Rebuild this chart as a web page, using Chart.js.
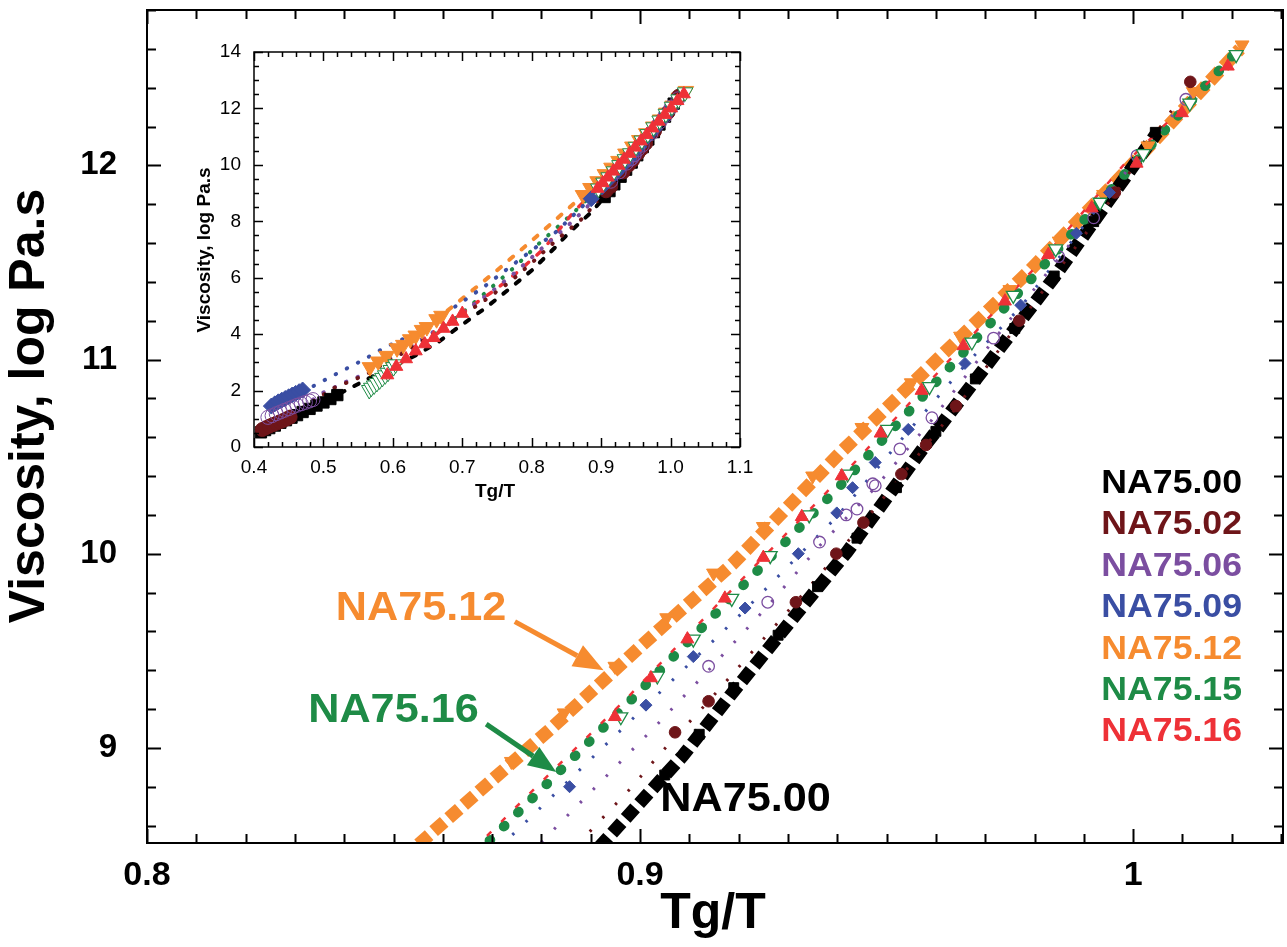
<!DOCTYPE html>
<html>
<head>
<meta charset="utf-8">
<script src="https://cdn.jsdelivr.net/npm/chart.js@4.4.1/dist/chart.umd.min.js"></script>
<style>
html, body { margin: 0; padding: 0; background: #fff; }
#wrap { position: relative; width: 1287px; height: 947px; overflow: hidden; }
#mainChart { position: absolute; left: 0; top: 0; }
#insetChart { position: absolute; left: 180px; top: 35px; }
</style>
</head>
<body>
<div id="wrap">
  <canvas id="mainChart" width="1287" height="947"></canvas>
  <canvas id="insetChart" width="580" height="480"></canvas>
</div>
<script>
// ---- data (Tg/T, log10 viscosity in Pa.s) ----
const seriesNames = ["NA75.00", "NA75.02", "NA75.06", "NA75.09", "NA75.12", "NA75.15", "NA75.16"];
const seriesColors = ["#000000", "#6e1519", "#7b4ea0", "#3a4ea3", "#f68b2f", "#1e8b46", "#ee3137"];

// fitted curves
const fitNA7500 = [[0.524,1.9],[0.538,2.08],[0.58,2.62],[0.634,3.26],[0.666,3.73],[0.697,4.29],[0.733,4.92],[0.766,5.57],[0.801,6.28],[0.834,7.08],[0.853,7.58],[0.884,8.28],[0.8925,8.51],[0.9087,8.96],[0.9183,9.27],[0.942,10.01],[0.9582,10.57],[0.9836,11.41],[1.0049,12.17]];
const fitNA7502 = [[0.455,1.15],[0.49,1.7],[0.514,2.08],[0.56,2.55],[0.63,3.56],[0.69,4.5],[0.733,5.21],[0.769,5.86],[0.802,6.57],[0.836,7.34],[0.872,8.08],[0.8878,8.515],[0.8984,8.8],[0.9037,8.96],[0.9139,9.24],[0.9316,9.75],[0.9398,9.99],[0.953,10.4],[0.9641,10.75],[0.9769,11.19],[0.9963,11.85],[1.008,12.29]];
const fitNA7506 = [[0.485,1.68],[0.4975,1.9],[0.5335,2.32],[0.566,2.65],[0.6,3.2],[0.65,3.95],[0.7,4.75],[0.7423,5.51],[0.7759,6.18],[0.8095,6.93],[0.8455,7.7],[0.8623,8.08],[0.8798,8.51],[0.9027,9.1],[0.9139,9.4],[0.9259,9.73],[0.9364,10.04],[0.9477,10.34],[0.9592,10.69],[0.9717,11.1],[0.9849,11.52],[1.0008,12.04],[1.0107,12.34]];
const fitNA7509 = [[0.47,1.95],[0.4855,2.16],[0.52,2.61],[0.5575,3.09],[0.5911,3.56],[0.6271,3.97],[0.6539,4.37],[0.7303,5.66],[0.7663,6.34],[0.8014,6.99],[0.8359,7.64],[0.8724,8.51],[0.8989,9.16],[0.9213,9.71],[0.9399,10.19],[0.9544,10.63],[0.9659,10.97],[0.9772,11.27],[0.9885,11.64],[0.9952,11.86]];
const fitNA7512 = [[0.567,2.83],[0.6055,3.5],[0.6415,4.15],[0.68,4.86],[0.7495,6.25],[0.8014,7.34],[0.8527,8.45],[0.8824,9.11],[0.9,9.52],[0.9189,9.95],[0.9406,10.52],[0.9791,11.46],[0.9967,11.92],[1.0217,12.6]];
const fitNA7515 = [[0.604,2.93],[0.65,3.8],[0.7063,4.89],[0.7423,5.66],[0.7759,6.39],[0.8109,7.22],[0.8441,7.95],[0.869,8.51],[0.8839,8.885],[0.8983,9.25],[0.9095,9.54],[0.9406,10.35],[0.981,11.46],[0.9992,11.98],[1.0204,12.57]];
const fitNA7516 = [[0.592,2.55],[0.6391,3.56],[0.6775,4.27],[0.7135,5.0],[0.7486,5.59],[0.7821,6.25],[0.8167,7.01],[0.8431,7.81],[0.86,8.32],[0.8675,8.51],[0.883,8.9],[0.8975,9.26],[0.9085,9.55],[0.9395,10.36],[0.98,11.47],[0.998,12.0],[1.019,12.52]];

// measured points
const ptsNA7500 = [[0.41,0.52],[0.416,0.6],[0.422,0.67],[0.43,0.76],[0.438,0.86],[0.446,0.95],[0.454,1.04],[0.462,1.13],[0.47,1.24],[0.48,1.35],[0.49,1.47],[0.5,1.58],[0.51,1.7],[0.52,1.84],
  [0.905,8.86],[0.912,9.07],[0.919,9.31],[0.928,9.58],[0.936,9.83],[0.944,10.08],[0.952,10.34],[0.96,10.63],[0.968,10.9],[0.976,11.16],[0.984,11.43],[0.992,11.71],[1.0045,12.17]];
const ptsNA7502 = [[0.412,0.62],[0.417,0.68],[0.422,0.74],[0.427,0.79],[0.432,0.84],[0.437,0.89],[0.442,0.94],[0.447,1.0],[0.452,1.06],
  [0.9071,9.08],[0.9139,9.24],[0.9316,9.75],[0.9398,10.0],[0.9453,10.16],[0.953,10.41],[0.958,10.56],[0.9641,10.76],[0.9769,11.2],[0.9963,11.86],[1.0116,12.43]];
const ptsNA7506 = [[0.42,1.05],[0.426,1.11],[0.432,1.18],[0.438,1.24],[0.444,1.3],[0.45,1.36],[0.456,1.42],[0.462,1.48],[0.468,1.53],[0.474,1.58],[0.48,1.63],[0.485,1.68],
  [0.9139,9.42],[0.9259,9.75],[0.9364,10.06],[0.9418,10.2],[0.944,10.23],[0.9472,10.36],[0.9477,10.35],[0.9527,10.54],[0.9592,10.7],[0.9717,11.11],[0.9849,11.53],[0.992,11.73],[1.0008,12.05],[1.0107,12.34]];
const ptsNA7509 = [[0.425,1.45],[0.43,1.53],[0.435,1.6],[0.44,1.66],[0.445,1.72],[0.45,1.78],[0.455,1.84],[0.46,1.9],[0.465,1.96],[0.47,2.02],
  [0.8857,8.8],[0.9012,9.22],[0.9108,9.47],[0.9213,9.72],[0.9321,10.0],[0.9399,10.21],[0.9431,10.34],[0.9477,10.47],[0.9544,10.64],[0.9659,10.98],[0.9772,11.28],[0.9885,11.65],[0.9952,11.86]];
const ptsNA7512 = [[0.567,2.83],[0.579,3.03],[0.591,3.23],[0.606,3.5],[0.615,3.62],[0.625,3.82],[0.633,3.95],[0.642,4.15],[0.649,4.25],[0.663,4.53],[0.67,4.65],
  [0.8739,8.93],[0.8846,9.18],[0.8949,9.42],[0.9054,9.67],[0.9149,9.9],[0.925,10.14],[0.935,10.4],[0.945,10.65],[0.955,10.88],[0.965,11.12],[0.975,11.36],[0.985,11.61],[0.994,11.85],[1.003,12.1],[1.0122,12.38],[1.0221,12.62]];
const ptsNA7515 = [[0.566,2.02],[0.569,2.1],[0.573,2.18],[0.577,2.27],[0.581,2.36],[0.585,2.45],[0.589,2.54],[0.593,2.63],[0.597,2.73],[0.601,2.83],[0.604,2.93],
  [0.8961,9.16],[0.9035,9.37],[0.9108,9.56],[0.9186,9.77],[0.9264,9.99],[0.9343,10.2],[0.9421,10.41],[0.9502,10.64],[0.9587,10.86],[0.9673,11.09],[0.9757,11.33],[0.9843,11.57],[0.9933,11.81],[1.0021,12.06],[1.0115,12.32],[1.0209,12.57]];
const ptsNA7516 = [[0.592,2.55],[0.605,2.85],[0.619,3.12],[0.633,3.4],[0.646,3.65],[0.659,3.87],[0.673,4.2],[0.686,4.45],[0.7,4.73],
  [0.8949,9.16],[0.9022,9.36],[0.9096,9.56],[0.9172,9.77],[0.925,9.98],[0.9328,10.19],[0.9409,10.4],[0.9488,10.62],[0.9571,10.84],[0.9656,11.07],[0.974,11.3],[0.9828,11.54],[0.9916,11.78],[1.0007,12.01],[1.0099,12.27],[1.0192,12.51]];

// ticks
const mainXTicks = [0.8, 0.9, 1.0];
const mainXLabels = ["0.8", "0.9", "1"];
const mainYTicks = [9, 10, 11, 12];
const mainYLabels = ["9", "10", "11", "12"];
const insetXTicks = [0.4, 0.5, 0.6, 0.7, 0.8, 0.9, 1.0, 1.1];
const insetXLabels = ["0.4", "0.5", "0.6", "0.7", "0.8", "0.9", "1.0", "1.1"];
const insetYTicks = [0, 2, 4, 6, 8, 10, 12, 14];
const insetYLabels = ["0", "2", "4", "6", "8", "10", "12", "14"];

const FONT = "'Liberation Sans', Arial, Helvetica, sans-serif";
Chart.defaults.font.family = FONT;
Chart.defaults.color = "#000";

// frame with inward ticks on all four sides
const frameTicks = {
    id: "frameTicks",
    afterDatasetsDraw(chart, args, o) {
        const { ctx, chartArea: a, scales: { x, y } } = chart;
        ctx.save();
        ctx.strokeStyle = "#000";
        ctx.lineWidth = o.lineWidth;
        ctx.beginPath();

        const kx0 = Math.ceil(x.min / o.xMinor - 1e-6), kx1 = Math.floor(x.max / o.xMinor + 1e-6);
        for (let k = kx0; k <= kx1; k++) {
            const v = k * o.xMinor;
            const r = v / o.xMajor;
            const len = Math.abs(r - Math.round(r)) < 1e-6 ? o.majorLen : o.minorLen;
            const px = Math.round(x.getPixelForValue(v)) + 0.5;
            ctx.moveTo(px, a.bottom); ctx.lineTo(px, a.bottom - len);
            ctx.moveTo(px, a.top); ctx.lineTo(px, a.top + len);
        }
        const ky0 = Math.ceil(y.min / o.yMinor - 1e-6), ky1 = Math.floor(y.max / o.yMinor + 1e-6);
        for (let k = ky0; k <= ky1; k++) {
            const v = k * o.yMinor;
            const r = v / o.yMajor;
            const len = Math.abs(r - Math.round(r)) < 1e-6 ? o.majorLen : o.minorLen;
            const py = Math.round(y.getPixelForValue(v)) + 0.5;
            ctx.moveTo(a.left, py); ctx.lineTo(a.left + len, py);
            ctx.moveTo(a.right, py); ctx.lineTo(a.right - len, py);
        }
        ctx.stroke();
        ctx.strokeRect(a.left, a.top, a.right - a.left, a.bottom - a.top);
        ctx.restore();
    }
};

// axis titles drawn by hand so they can sit where the original has them
const axisTitles = {
    id: "axisTitles",
    afterDraw(chart, args, o) {
        const ctx = chart.ctx;
        ctx.save();
        ctx.fillStyle = "#000";
        ctx.textAlign = "center";
        ctx.textBaseline = "middle";
        ctx.font = o.font;
        ctx.fillText(o.xText, o.xPos[0], o.xPos[1]);
        ctx.translate(o.yPos[0], o.yPos[1]);
        ctx.rotate(-Math.PI / 2);
        ctx.fillText(o.yText, 0, 0);
        ctx.restore();
    }
};

function arrow(ctx, x0, y0, x1, y1, color, shaft, headLen, headW) {
    const ang = Math.atan2(y1 - y0, x1 - x0);
    const bx = x1 - Math.cos(ang) * headLen, by = y1 - Math.sin(ang) * headLen;
    ctx.strokeStyle = color;
    ctx.fillStyle = color;
    ctx.lineWidth = shaft;
    ctx.beginPath();
    ctx.moveTo(x0, y0);
    ctx.lineTo(bx, by);
    ctx.stroke();
    ctx.beginPath();
    ctx.moveTo(x1, y1);
    ctx.lineTo(bx + Math.sin(ang) * headW / 2, by - Math.cos(ang) * headW / 2);
    ctx.lineTo(bx - Math.sin(ang) * headW / 2, by + Math.cos(ang) * headW / 2);
    ctx.closePath();
    ctx.fill();
}

// text a little wider than the installed font draws it
function wideText(ctx, text, x, y, stretch, align) {
    ctx.save();
    ctx.translate(x, y);
    ctx.scale(stretch, 1);
    ctx.textAlign = align;
    ctx.fillText(text, 0, 0);
    ctx.restore();
}

// labels, arrows and the coloured-text legend of the main plot
const mainNotes = {
    id: "mainNotes",
    afterDatasetsDraw(chart) {
        const { ctx, scales: { x, y } } = chart;
        ctx.save();
        ctx.font = "bold 40px " + FONT;
        ctx.textBaseline = "alphabetic";

        ctx.fillStyle = seriesColors[4];
        wideText(ctx, seriesNames[4], x.getPixelForValue(0.8383), y.getPixelForValue(9.658), 1.08, "left");
        arrow(ctx, x.getPixelForValue(0.8746), y.getPixelForValue(9.65), x.getPixelForValue(0.8926), y.getPixelForValue(9.40), seriesColors[4], 5, 30, 24);

        ctx.fillStyle = seriesColors[5];
        wideText(ctx, seriesNames[6], x.getPixelForValue(0.8327), y.getPixelForValue(9.132), 1.08, "left");
        arrow(ctx, x.getPixelForValue(0.8688), y.getPixelForValue(9.122), x.getPixelForValue(0.883), y.getPixelForValue(8.876), seriesColors[5], 5, 28, 22);

        ctx.fillStyle = seriesColors[0];
        wideText(ctx, seriesNames[0], x.getPixelForValue(0.9041), y.getPixelForValue(8.675), 1.08, "left");

        ctx.font = "bold 33px " + FONT;
        seriesNames.forEach((name, i) => {
            ctx.fillStyle = seriesColors[i];
            wideText(ctx, name, 1242, 493 + i * 41.4, 1.08, "right");
        });
        ctx.restore();
    }
};

function fitSet(data, color, width, dash, cap) {
    return {
        data: data, showLine: true, borderColor: color, borderWidth: width,
        borderDash: dash, borderCapStyle: cap, pointRadius: 0, pointHoverRadius: 0, clip: 0
    };
}

function markSet(data, color, style, radius, rotation, fill, bw) {
    return {
        data: data, showLine: false, pointStyle: style, pointRadius: radius, pointHoverRadius: radius,
        pointRotation: rotation, pointBackgroundColor: fill || color, pointBorderColor: color,
        pointBorderWidth: bw, clip: 0
    };
}

// bottom to top
function buildDatasets(s) {
    const list = [
        fitSet(fitNA7512, seriesColors[4], s.fatW, s.fatDash, s.fatCap),
        fitSet(fitNA7500, seriesColors[0], s.fatW, s.fatDash, s.fatCap),
        fitSet(fitNA7515, seriesColors[5], s.greenW, s.greenDash, "round"),
        fitSet(fitNA7516, seriesColors[6], s.redW, s.redDash, s.fatCap),
        fitSet(fitNA7509, seriesColors[3], s.dotW, s.dotDash, s.dotCap),
        fitSet(fitNA7506, seriesColors[2], s.dotW, s.dotDash, s.dotCap),
        fitSet(fitNA7502, seriesColors[1], s.dotW, s.dotDash, s.dotCap),
        markSet(ptsNA7500, seriesColors[0], "rect", s.sq, 0, null, 1),
        markSet(ptsNA7512, seriesColors[4], "triangle", s.tri, 180, null, 1),
        markSet(ptsNA7502, seriesColors[1], "circle", s.circ, 0, null, 1),
        markSet(ptsNA7509, seriesColors[3], "rectRot", s.dia, 0, null, 1),
        markSet(ptsNA7506, seriesColors[2], "circle", s.circ, 0, "rgba(255,255,255,0)", s.thin),
        markSet(ptsNA7515, seriesColors[5], "triangle", s.tri, 180, "#ffffff", s.thin),
        markSet(ptsNA7516, seriesColors[6], "triangle", s.redTri, 0, null, 1)
    ];
    list.forEach((d, i) => { d.order = list.length - i; });
    return list;
}

function axis(min, max, ticks, labels, size, weight, pad, fitKey, fitVal) {
    return {
        type: "linear", min: min, max: max,
        afterBuildTicks: s => { s.ticks = ticks.map(v => ({ value: v })); },
        afterFit: s => {
            s[fitKey] = fitVal;
            s.paddingTop = 0; s.paddingBottom = 0; s.paddingLeft = 0; s.paddingRight = 0;
        },
        grid: { display: false, drawTicks: false },
        border: { display: false },
        ticks: {
            autoSkip: false, maxRotation: 0, minRotation: 0, padding: pad, color: "#000",
            font: { size: size, weight: weight },
            callback: v => labels[ticks.indexOf(v)]
        }
    };
}

new Chart(document.getElementById("mainChart"), {
    type: "scatter",
    data: {
        datasets: buildDatasets({
            fatW: 13, fatDash: [14, 6], fatCap: "butt",
            greenW: 10, greenDash: [1, 19],
            redW: 2.5, redDash: [6, 14],
            dotW: 3, dotDash: [2.5, 16], dotCap: "butt",
            sq: 7, tri: 8, redTri: 7.5, circ: 5.8, dia: 6, thin: 1.3
        })
    },
    options: {
        responsive: false, animation: false, events: [],
        layout: { autoPadding: false, padding: { left: 0, right: 4, top: 10, bottom: 0 } },
        scales: {
            x: axis(0.8, 1.0304, mainXTicks, mainXLabels, 34, "bold", 12, "height", 104),
            y: axis(8.51, 12.8, mainYTicks, mainYLabels, 33, "bold", 30, "width", 147)
        },
        plugins: {
            legend: { display: false }, tooltip: { enabled: false },
            frameTicks: { lineWidth: 2, xMinor: 0.01, xMajor: 0.1, yMinor: 0.2, yMajor: 1, majorLen: 14, minorLen: 9 },
            axisTitles: { font: "bold 50px " + FONT, xText: "Tg/T", xPos: [713, 914], yText: "Viscosity, log Pa.s", yPos: [30, 406] }
        }
    },
    plugins: [frameTicks, axisTitles, mainNotes]
});

new Chart(document.getElementById("insetChart"), {
    type: "scatter",
    data: {
        datasets: buildDatasets({
            fatW: 4, fatDash: [5, 11], fatCap: "round",
            greenW: 4, greenDash: [0.5, 12],
            redW: 3.5, redDash: [5, 11],
            dotW: 4, dotDash: [0.5, 12], dotCap: "round",
            sq: 8, tri: 9, redTri: 7.5, circ: 7, dia: 8, thin: 1
        })
    },
    options: {
        responsive: false, animation: false, events: [],
        layout: { autoPadding: false, padding: { left: 0, right: 20, top: 17, bottom: 0 } },
        scales: {
            x: axis(0.4, 1.1, insetXTicks, insetXLabels, 19, "normal", 9, "height", 68),
            y: axis(0, 14, insetYTicks, insetYLabels, 19, "normal", 13, "width", 74)
        },
        plugins: {
            legend: { display: false }, tooltip: { enabled: false },
            frameTicks: { lineWidth: 1.5, xMinor: 0.02, xMajor: 0.1, yMinor: 0.5, yMajor: 2, majorLen: 9, minorLen: 5 },
            axisTitles: { font: "bold 19px " + FONT, xText: "Tg/T", xPos: [315, 457], yText: "Viscosity, log Pa.s", yPos: [25, 215] }
        }
    },
    plugins: [frameTicks, axisTitles]
});
</script>
</body>
</html>
